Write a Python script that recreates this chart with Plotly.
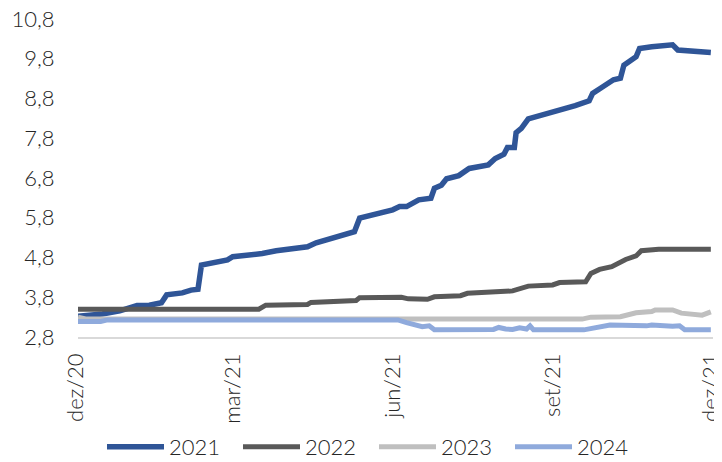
import plotly.graph_objects as go

# Expectativas por ano-calendário (leitura do gráfico)
dates_2021 = ["2020-12-01", "2020-12-15", "2020-12-25", "2021-01-04", "2021-01-11", "2021-01-18",
              "2021-01-21", "2021-01-30", "2021-02-04", "2021-02-08", "2021-02-10", "2021-02-18",
              "2021-02-25", "2021-02-28", "2021-03-10", "2021-03-17", "2021-03-25", "2021-04-03",
              "2021-04-12", "2021-04-17", "2021-04-25", "2021-05-01", "2021-05-09", "2021-05-12",
              "2021-05-19", "2021-05-25", "2021-05-31", "2021-06-04", "2021-06-08", "2021-06-15",
              "2021-06-22", "2021-06-24", "2021-06-28", "2021-07-01", "2021-07-08", "2021-07-14",
              "2021-07-19", "2021-07-25", "2021-07-29", "2021-08-03", "2021-08-05", "2021-08-09",
              "2021-08-10", "2021-08-13", "2021-08-17", "2021-08-23", "2021-08-30", "2021-09-05",
              "2021-09-13", "2021-09-21", "2021-09-23", "2021-09-28", "2021-10-05", "2021-10-09",
              "2021-10-11", "2021-10-18", "2021-10-20", "2021-10-27", "2021-11-08", "2021-11-11",
              "2021-11-19", "2021-11-30"]
vals_2021 = [3.32, 3.38, 3.46, 3.59, 3.60, 3.66,
             3.86, 3.91, 3.98, 4.00, 4.61, 4.67,
             4.74, 4.82, 4.85, 4.90, 4.97, 5.03,
             5.07, 5.17, 5.28, 5.37, 5.45, 5.79,
             5.87, 5.92, 6.00, 6.08, 6.08, 6.25,
             6.29, 6.54, 6.62, 6.78, 6.86, 7.04,
             7.07, 7.13, 7.29, 7.40, 7.57, 7.57,
             7.94, 8.05, 8.29, 8.36, 8.45, 8.51,
             8.62, 8.74, 8.93, 9.07, 9.27, 9.31,
             9.64, 9.85, 10.06, 10.10, 10.15, 10.02,
             10.00, 9.96]

dates_2022 = ["2020-12-01", "2021-03-15", "2021-03-19", "2021-04-12", "2021-04-14", "2021-05-10",
              "2021-05-12", "2021-06-05", "2021-06-09", "2021-06-20", "2021-06-24", "2021-07-09",
              "2021-07-13", "2021-07-26", "2021-08-08", "2021-08-17", "2021-08-31", "2021-09-04",
              "2021-09-19", "2021-09-22", "2021-09-27", "2021-10-04", "2021-10-12", "2021-10-18",
              "2021-10-21", "2021-10-31", "2021-11-30"]
vals_2022 = [3.50, 3.50, 3.60, 3.62, 3.67, 3.72,
             3.79, 3.80, 3.76, 3.75, 3.81, 3.84,
             3.90, 3.92, 3.96, 4.08, 4.11, 4.17,
             4.19, 4.40, 4.50, 4.57, 4.75, 4.84,
             4.97, 5.01, 5.01]

dates_2023 = ["2020-12-01", "2020-12-06", "2021-09-17", "2021-09-22", "2021-10-09", "2021-10-18",
              "2021-10-27", "2021-10-29", "2021-11-08", "2021-11-13", "2021-11-25", "2021-11-30"]
vals_2023 = [3.30, 3.25, 3.25, 3.30, 3.31, 3.41,
             3.44, 3.48, 3.48, 3.40, 3.35, 3.43]

dates_2024 = ["2020-12-01", "2020-12-14", "2020-12-18", "2021-06-03", "2021-06-08", "2021-06-17",
              "2021-06-21", "2021-06-24", "2021-07-28", "2021-07-31", "2021-08-04", "2021-08-08",
              "2021-08-12", "2021-08-16", "2021-08-18", "2021-08-20", "2021-09-18", "2021-09-26",
              "2021-10-03", "2021-10-24", "2021-10-27", "2021-11-08", "2021-11-12", "2021-11-15",
              "2021-11-30"]
vals_2024 = [3.19, 3.19, 3.23, 3.23, 3.16, 3.06,
             3.08, 2.98, 2.99, 3.04, 3.00, 2.99,
             3.03, 3.00, 3.08, 2.98, 2.98, 3.04,
             3.10, 3.08, 3.10, 3.07, 3.08, 2.98,
             2.98]

tick_dates = ["2020-12-01", "2021-03-01", "2021-06-01", "2021-09-01", "2021-12-01"]
tick_labels = ["dez/20", "mar/21", "jun/21", "set/21", "dez/21"]
y_ticks = [2.8, 3.8, 4.8, 5.8, 6.8, 7.8, 8.8, 9.8, 10.8]
y_labels = ["2,8", "3,8", "4,8", "5,8", "6,8", "7,8", "8,8", "9,8", "10,8"]

series = [
    ("2021", dates_2021, vals_2021, "#2F5597", 5.5),
    ("2022", dates_2022, vals_2022, "#595959", 5),
    ("2023", dates_2023, vals_2023, "#BFBFBF", 5),
    ("2024", dates_2024, vals_2024, "#8FAADC", 5),
]

fig = go.Figure()
for name, x, y, color, width in series:
    fig.add_trace(go.Scatter(
        x=x, y=y, name=name, mode="lines",
        line=dict(color=color, width=width),
    ))

FONT_FAMILY = "Lato, 'Open Sans', sans-serif"

# the page body keeps its default 8px margin, so the figure is 8px smaller
fig.update_layout(
    width=714, height=454,
    margin=dict(l=70, r=9, t=11, b=125, autoexpand=False),
    paper_bgcolor="white",
    plot_bgcolor="white",
    font=dict(family=FONT_FAMILY, size=22, color="#262626", weight=300),
    showlegend=True,
    legend=dict(
        orientation="h", xref="container", x=0.5126, xanchor="center",
        y=-0.346, yanchor="middle",
        font=dict(family=FONT_FAMILY, size=22, color="#262626", weight=300),
        itemwidth=57, entrywidth=64, traceorder="normal",
    ),
)

fig.update_xaxes(
    range=["2020-12-01", "2021-12-01 06:00"],
    tickmode="array", tickvals=tick_dates, ticktext=tick_labels,
    tickangle=-90, ticklabelshift=-2, ticklabeloverflow="allow",
    automargin=False,
    showgrid=False, zeroline=False,
    showline=True, linecolor="#D9D9D9", linewidth=1.5,
    ticks="outside", ticklen=6, tickcolor="rgba(0,0,0,0)",
)
fig.update_yaxes(
    range=[2.8, 10.8], automargin=False, ticklabeloverflow="allow",
    tickmode="array", tickvals=y_ticks, ticktext=y_labels,
    showgrid=False, zeroline=False, showline=False,
    ticks="outside", ticklen=18, tickcolor="rgba(0,0,0,0)",
)

fig.write_html("out.html")
